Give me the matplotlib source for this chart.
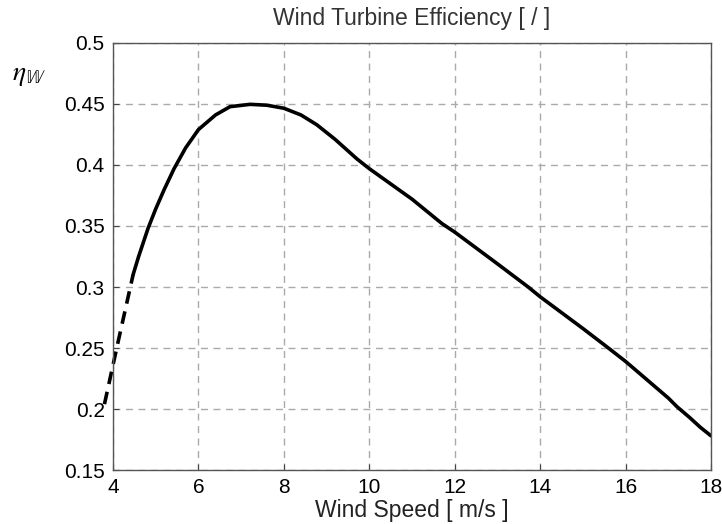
import numpy as np
import matplotlib.pyplot as plt

plt.rcParams['font.family'] = ['Liberation Sans', 'DejaVu Sans']
plt.rcParams['mathtext.fontset'] = 'stix'

# curva de eficiencia (tramo solido)
wind_speed = [4.47, 4.6, 4.82, 5.0, 5.2, 5.43, 5.7, 6.0, 6.4, 6.74, 7.21, 7.6, 8.0,
              8.4, 8.77, 9.2, 9.71, 10.0, 11.0, 11.7, 12.0, 13.0, 13.72, 14.0, 15.0,
              15.56, 16.0, 17.0, 17.2, 17.5, 17.75, 18.0]
efficiency = [0.310, 0.325, 0.348, 0.364, 0.380, 0.397, 0.414, 0.429, 0.441, 0.4478,
              0.4497, 0.449, 0.4465, 0.441, 0.433, 0.421, 0.405, 0.397, 0.372, 0.352,
              0.345, 0.319, 0.300, 0.292, 0.266, 0.251, 0.239, 0.209, 0.202, 0.193,
              0.185, 0.178]

# tramo extrapolado (discontinuo)
wind_speed_ext = [3.80, 4.10, 4.47]
efficiency_ext = [0.204, 0.252, 0.310]

x_ticks = [4, 6, 8, 10, 12, 14, 16, 18]
y_ticks = [0.15, 0.2, 0.25, 0.3, 0.35, 0.4, 0.45, 0.5]
y_tick_labels = ['0.15', '0.2', '0.25', '0.3', '0.35', '0.4', '0.45', '0.5']

fig = plt.figure(figsize=(7.22, 5.24), dpi=100)
ax = fig.add_axes([0.1565, 0.103, 0.8283, 0.815])

ax.plot(wind_speed, efficiency, color='black', lw=2.6, solid_joinstyle='round',
        solid_capstyle='round')
ax.plot(wind_speed_ext, efficiency_ext, color='black', lw=2.6, ls=(0, (3.5, 2.2)),
        clip_on=False)

ax.set_xlim(4, 18)
ax.set_ylim(0.15, 0.5)
ax.set_xticks(x_ticks)
ax.set_yticks(y_ticks)
ax.set_yticklabels(y_tick_labels)
ax.tick_params(direction='in', length=4, labelsize=15, color='#444444', pad=6)
ax.grid(True, ls=(0, (5, 4)), color='#aaaaaa', lw=1.0)
for s in ax.spines.values():
    s.set_color('#555555')
    s.set_linewidth(1.0)

ax.set_title('Wind Turbine Efficiency [ / ]', fontsize=16.5, color='#333333', pad=13)
ax.set_xlabel('Wind Speed [ m/s ]', fontsize=16.5, color='#222222', labelpad=1)
fig.text(0.040, 0.857, r'$\eta_{\mathbb{W}}$', fontsize=20, ha='center', va='center')

fig.savefig('out.png', dpi=100)
